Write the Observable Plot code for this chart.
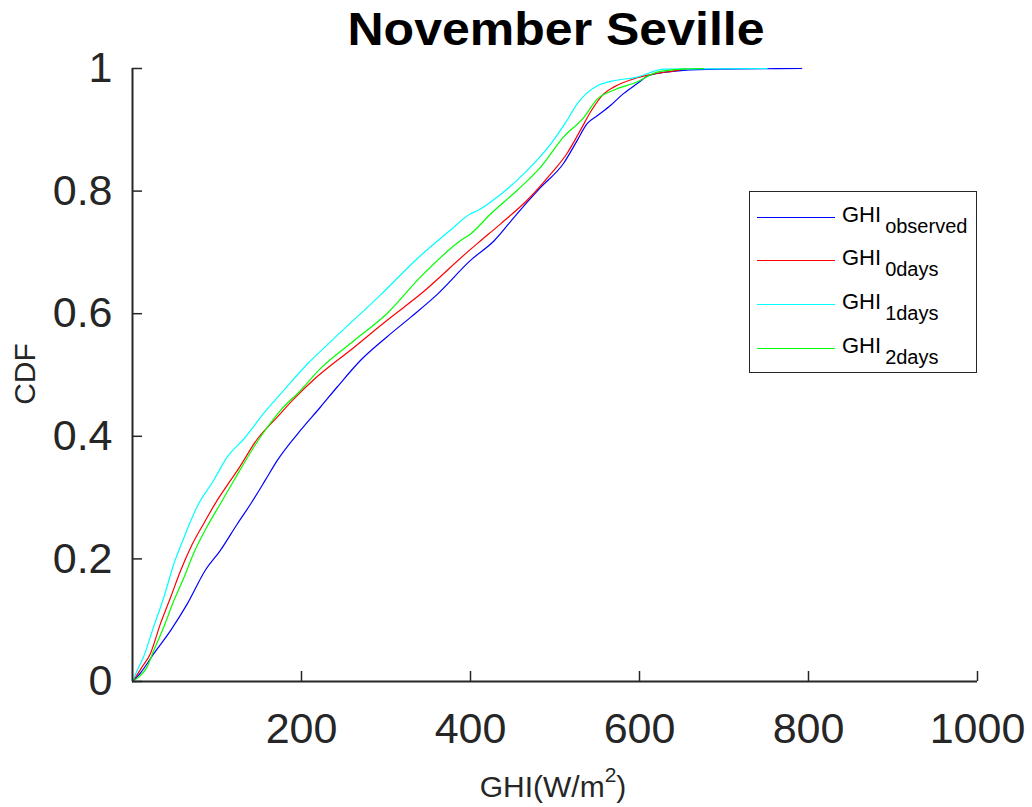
<!DOCTYPE html>
<html><head><meta charset="utf-8">
<script src="https://cdn.jsdelivr.net/npm/d3@7"></script>
<script src="https://cdn.jsdelivr.net/npm/@observablehq/plot@0.6"></script>
<style>body{margin:0;background:#fff} svg{display:block}</style>
</head><body><div id="chart"></div>
<script>
const seriesNames = ["observed", "0days", "1days", "2days"];
const seriesColors = ["#0000ff", "#ff0000", "#00ffff", "#00ff00"];

const obsX = [0, 10, 25, 45, 65, 86, 104, 124, 140, 157, 171, 199, 222, 242, 270, 301, 329, 361, 400, 428, 455, 483, 510, 526, 538, 550, 566, 581, 597, 612, 652, 692, 792];
const obsY = [0, 0.015, 0.045, 0.083, 0.127, 0.181, 0.214, 0.257, 0.29, 0.328, 0.36, 0.41, 0.447, 0.48, 0.524, 0.562, 0.594, 0.632, 0.687, 0.719, 0.763, 0.806, 0.845, 0.882, 0.91, 0.923, 0.94, 0.959, 0.975, 0.989, 0.997, 0.999, 1.0];

const d0X = [0, 5, 11, 21, 33, 45, 57, 69, 84, 100, 116, 124, 148, 171, 191, 215, 262, 301, 341, 400, 412, 436, 467, 495, 514, 530, 542, 558, 570, 593, 617, 645, 656];
const d0Y = [0, 0.01, 0.023, 0.045, 0.094, 0.137, 0.181, 0.219, 0.257, 0.295, 0.328, 0.344, 0.396, 0.431, 0.461, 0.493, 0.545, 0.589, 0.632, 0.705, 0.719, 0.747, 0.785, 0.828, 0.861, 0.899, 0.929, 0.959, 0.97, 0.983, 0.991, 0.997, 1.0];

const d1X = [0, 5.5, 13, 25, 37, 49, 61, 76, 96, 112, 132, 155, 179, 207, 238, 293, 341, 376, 400, 408, 436, 463, 495, 514, 526, 550, 566, 597, 629, 751];
const d1Y = [0, 0.018, 0.04, 0.089, 0.137, 0.192, 0.235, 0.284, 0.328, 0.366, 0.396, 0.437, 0.475, 0.518, 0.559, 0.63, 0.695, 0.736, 0.763, 0.768, 0.795, 0.828, 0.877, 0.915, 0.942, 0.972, 0.979, 0.986, 0.999, 1.0];

const d2X = [0, 8, 17, 25, 37, 49, 61, 72, 88, 104, 120, 151, 175, 199, 222, 262, 301, 341, 388, 400, 424, 455, 483, 510, 534, 550, 570, 597, 621, 652, 676];
const d2Y = [0, 0.008, 0.023, 0.05, 0.089, 0.132, 0.17, 0.208, 0.252, 0.29, 0.328, 0.398, 0.442, 0.475, 0.51, 0.556, 0.6, 0.66, 0.719, 0.73, 0.763, 0.801, 0.839, 0.888, 0.92, 0.95, 0.965, 0.978, 0.994, 0.999, 1.0];

const xTicks = [200, 400, 600, 800, 1000];
const yTicks = [0, 0.2, 0.4, 0.6, 0.8, 1];
const yTickLabels = ["0", "0.2", "0.4", "0.6", "0.8", "1"];

const rows = [];
[[obsX, obsY], [d0X, d0Y], [d1X, d1Y], [d2X, d2Y]].forEach(([xs, ys], i) =>
  xs.forEach((x, j) => rows.push({series: seriesNames[i], x, y: ys[j]})));

const font = "'Liberation Sans', Arial, Helvetica, sans-serif";
const W = 1032, H = 807, mL = 132, mR = 55, mT = 68, mB = 126;
const frameW = W - mL - mR, frameH = H - mT - mB;
const axisColor = "#262626";

const plot = Plot.plot({
  width: W, height: H,
  marginLeft: mL, marginRight: mR, marginTop: mT, marginBottom: mB,
  style: {fontFamily: font, background: "#fff", color: axisColor, overflow: "visible"},
  x: {domain: [0, 1000]},
  y: {domain: [0, 1]},
  color: {domain: seriesNames, range: seriesColors},
  marks: [
    Plot.line(rows, {x: "x", y: "y", stroke: "series", strokeWidth: 1.2, curve: "monotone-x"}),
    Plot.ruleY([0], {stroke: axisColor, strokeWidth: 2}),
    Plot.ruleX([0], {stroke: axisColor, strokeWidth: 2}),
    Plot.tickX(xTicks, {x: d => d, stroke: axisColor, strokeWidth: 1.5, insetTop: frameH - 10}),
    Plot.tickY(yTicks, {y: d => d, stroke: axisColor, strokeWidth: 1.5, insetRight: frameW - 10}),
    Plot.axisX({ticks: xTicks, tickSize: 0, tickPadding: 31, fontSize: 43, label: null, tickFormat: d => String(d)}),
    Plot.axisY({ticks: yTicks, tickSize: 0, tickPadding: 20, fontSize: 43, label: null,
      tickFormat: d => yTickLabels[yTicks.indexOf(d)]})
  ]
});

const svg = d3.select(plot);

// Title
svg.append("text")
  .attr("x", 556).attr("y", 45)
  .attr("text-anchor", "middle")
  .attr("font-family", font).attr("font-weight", "bold").attr("font-size", 46)
  .attr("textLength", 417).attr("lengthAdjust", "spacingAndGlyphs")
  .attr("fill", "#000")
  .text("November Seville");

// X label
const xl = svg.append("text")
  .attr("x", 553).attr("y", 797)
  .attr("text-anchor", "middle")
  .attr("font-family", font).attr("font-size", 30)
  .attr("fill", axisColor);
xl.append("tspan").text("GHI(W/m");
xl.append("tspan").attr("font-size", 21).attr("dy", -15).text("2");
xl.append("tspan").attr("dy", 15).text(")");

// Y label
svg.append("text")
  .attr("transform", "translate(35,374) rotate(-90)")
  .attr("text-anchor", "middle")
  .attr("font-family", font).attr("font-size", 30)
  .attr("fill", axisColor)
  .text("CDF");

// Legend
const lg = svg.append("g");
lg.append("rect")
  .attr("x", 749.5).attr("y", 191.5).attr("width", 227).attr("height", 181)
  .attr("fill", "#fff").attr("stroke", axisColor).attr("stroke-width", 1);
seriesNames.forEach((n, i) => {
  const cy = Math.round(216.7 + i * 43.6) + 0.5;
  lg.append("line")
    .attr("x1", 757).attr("x2", 835).attr("y1", cy).attr("y2", cy)
    .attr("stroke", seriesColors[i]).attr("stroke-width", 1.2);
  const t = lg.append("text")
    .attr("x", 842).attr("y", cy + 4.5)
    .attr("text-anchor", "start")
    .attr("font-family", font).attr("font-size", 22)
    .attr("fill", "#000");
  t.append("tspan").text("GHI");
  t.append("tspan").attr("font-size", 20).attr("dx", 4).attr("dy", 10.5).text(n);
});

document.getElementById("chart").appendChild(plot);
</script>
</body></html>
